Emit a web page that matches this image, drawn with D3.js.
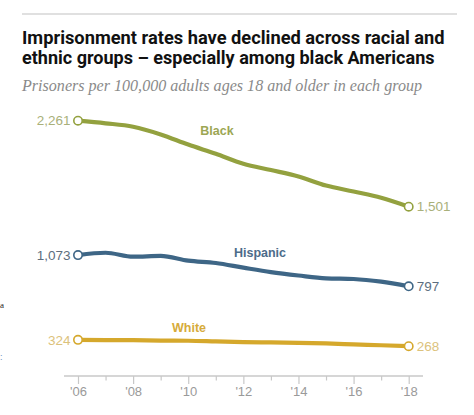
<!DOCTYPE html>
<html><head><meta charset="utf-8">
<script src="https://cdn.jsdelivr.net/npm/d3@7"></script>
<style>
html,body{margin:0;padding:0;background:#fff;}
svg{display:block;}
</style></head>
<body>
<script>
const years = [2006,2007,2008,2009,2010,2011,2012,2013,2014,2015,2016,2017,2018];
const black = [2261,2238,2208,2140,2050,1968,1880,1825,1768,1688,1635,1580,1501];
const hispanic = [1073,1094,1059,1066,1024,1003,962,923,893,868,862,838,797];
const white = [324,322,321,317,316,310,304,301,298,292,284,276,268];
const seriesNames = ["Black","Hispanic","White"];
const tickYears = [2006,2008,2010,2012,2014,2016,2018];
const tickLabels = ["'06","'08","'10","'12","'14","'16","'18"];
const title = ["Imprisonment rates have declined across racial and","ethnic groups \u2013 especially among black Americans"];
const subtitle = "Prisoners per 100,000 adults ages 18 and older in each group";

const W = 474, H = 415;
const svg = d3.select("body").append("svg").attr("width", W).attr("height", H);

function fit(sel, target){
  const n = sel.node();
  let fs = parseFloat(sel.attr("font-size"));
  const w = n.getComputedTextLength();
  sel.attr("font-size", (fs * target / w).toFixed(2));
}

// top rule
svg.append("line").attr("x1",22).attr("x2",457).attr("y1",14).attr("y2",14)
  .attr("stroke","#d6d6d6").attr("stroke-width",1.5);

const tfont = "Roboto, 'Liberation Sans', Arial, sans-serif";
title.forEach((t,i)=>{
  const s = svg.append("text").attr("x",22).attr("y",44 + i*20)
    .attr("font-family", tfont).attr("font-weight","bold").attr("font-size",18)
    .attr("fill","#111").text(t);
  fit(s, i===0 ? 423 : 413);
});
const st = svg.append("text").attr("x",22).attr("y",91)
  .attr("font-family","'Liberation Serif', Georgia, serif").attr("font-style","italic")
  .attr("font-size",15).attr("fill","#8a8a8a").text(subtitle);
fit(st, 400);

// scales
const x = d3.scaleLinear().domain([2006,2018]).range([78,408.7]);
const y = d3.scaleLinear().domain([0,2261]).range([376.5,120.7]);

// axis
const axisG = svg.append("g").attr("transform","translate(0,376)");
const axis = d3.axisBottom(x).tickValues(years).tickSizeOuter(0)
  .tickFormat(d => { const i = tickYears.indexOf(d); return i>=0 ? tickLabels[i] : ""; });
axisG.call(axis);
axisG.select(".domain").attr("d", `M64,0H423`).attr("stroke","#c8c8c8").attr("stroke-width",1.5);
axisG.selectAll(".tick line").attr("stroke","#c8c8c8").attr("stroke-width",1.2)
  .attr("y2", d => tickYears.includes(d) ? 8 : 4.5);
axisG.selectAll(".tick text").attr("y",11).attr("dy","0.71em")
  .attr("font-family","'Liberation Sans', Arial, sans-serif").attr("font-size",13)
  .attr("fill","#9a9a9a");

const series = [
  {name:"Black", values:black, color:"#93a13f", label:"#a9b07a", nameColor:"#9ca653", lx:217, ly:131},
  {name:"Hispanic", values:hispanic, color:"#3e6686", label:"#5d6e7e", nameColor:"#4c6c8a", lx:260, ly:252.5},
  {name:"White", values:white, color:"#d5a82c", label:"#dcc27c", nameColor:"#d6ab3a", lx:189, ly:327.5}
];

const line = d3.line().x((d,i)=>x(years[i])).y(d=>y(d)).curve(d3.curveMonotoneX);
const fmt = d3.format(",");

series.forEach(s=>{
  svg.append("path").datum(s.values).attr("d", line)
    .attr("fill","none").attr("stroke", s.color).attr("stroke-width",4.2)
    .attr("stroke-linejoin","round").attr("stroke-linecap","round");
  const ends = [0, s.values.length-1];
  ends.forEach(i=>{
    svg.append("circle").attr("cx", x(years[i])).attr("cy", y(s.values[i])).attr("r",4.2)
      .attr("fill","#fff").attr("stroke", s.color).attr("stroke-width",1.6);
    svg.append("text")
      .attr("x", i===0 ? x(years[i]) - 7.5 : x(years[i]) + 8)
      .attr("y", y(s.values[i])).attr("dy","0.35em")
      .attr("text-anchor", i===0 ? "end" : "start")
      .attr("font-family","'Liberation Sans', Arial, sans-serif").attr("font-size",13.5)
      .attr("fill", s.label).text(fmt(s.values[i]));
  });
  svg.append("text").attr("x", s.lx).attr("y", s.ly).attr("dy","0.35em")
    .attr("text-anchor","middle")
    .attr("font-family","'Liberation Sans', Arial, sans-serif").attr("font-weight","bold")
    .attr("font-size",12.5).attr("fill", s.nameColor).text(s.name);
});

// fragments at left edge (from surrounding page)
svg.append("text").attr("x",0).attr("y",308).attr("font-family","'Liberation Serif', serif")
  .attr("font-size",9).attr("fill","#222").text("a");
svg.append("text").attr("x",0).attr("y",360).attr("font-family","'Liberation Sans', sans-serif")
  .attr("font-size",9).attr("fill","#6b8fc0").text(":");
</script>
</body></html>
